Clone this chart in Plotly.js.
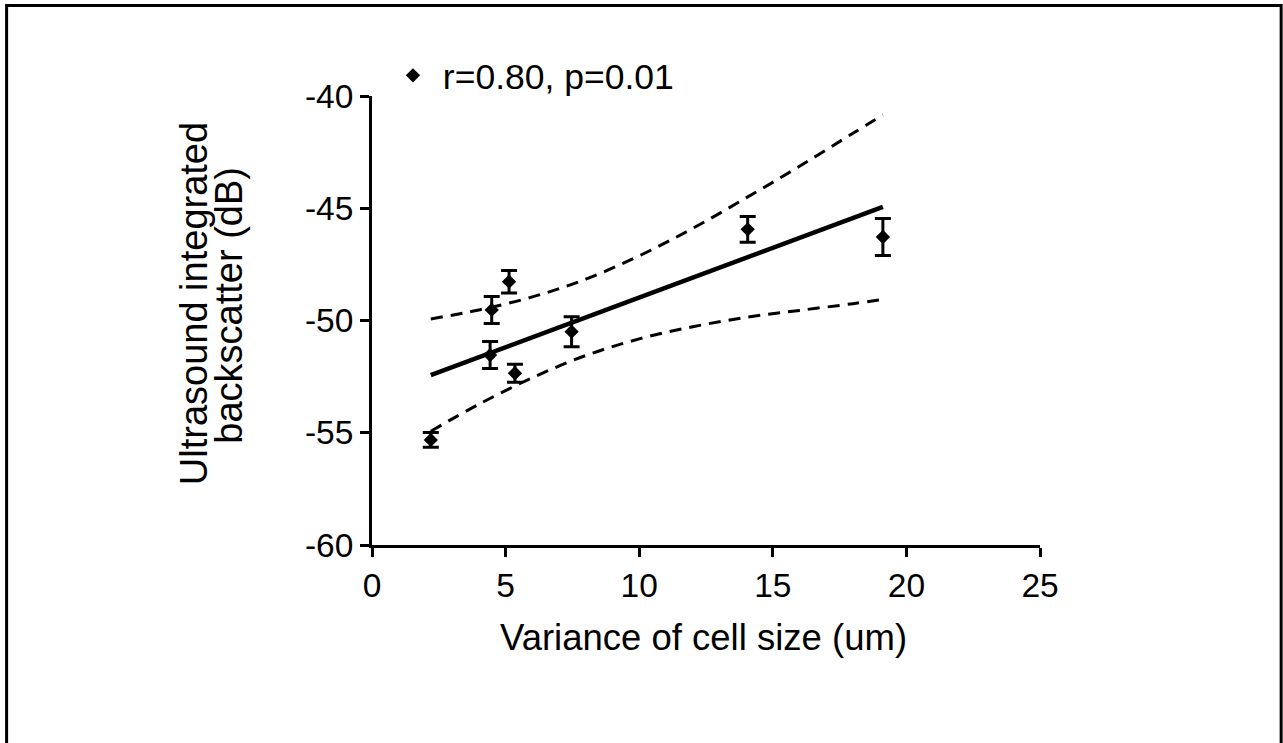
<!DOCTYPE html>
<html>
<head>
<meta charset="utf-8">
<script src="https://cdn.plot.ly/plotly-3.0.1.min.js"></script>
<style>html,body{margin:0;padding:0;background:#fff;}#chart{width:1283px;height:743px;}</style>
</head>
<body>
<div id="chart"></div>
<script>
// Data
const cellVariance = [2.2, 4.42, 4.48, 5.13, 5.35, 7.47, 14.06, 19.12];
const backscatter = [-55.32, -51.54, -49.53, -48.27, -52.35, -50.50, -45.94, -46.28];
const backscatterErr = [0.33, 0.6, 0.6, 0.5, 0.4, 0.67, 0.57, 0.82];
const fitX = [2.2, 19.12];
const fitY = [-52.43, -44.94];
const ciX = [2.2, 4, 6, 8, 10, 12, 14, 16, 18, 19.12];
const ciUpper = [-49.93, -49.53, -48.95, -48.16, -47.12, -45.90, -44.54, -43.13, -41.66, -40.84];
const ciLower = [-54.93, -53.73, -52.55, -51.56, -50.82, -50.28, -49.86, -49.55, -49.25, -49.06];
const xTicks = [0, 5, 10, 15, 20, 25];
const yTicks = [-60, -55, -50, -45, -40];
const legendText = '\u00a0r=0.80, p=0.01';

const FONT = 'Liberation Sans, Arial, sans-serif';

const traces = [
  {x: ciX, y: ciUpper, mode: 'lines', line: {color: '#000', width: 3, dash: '12px,8px', shape: 'spline'}, showlegend: false, hoverinfo: 'skip'},
  {x: ciX, y: ciLower, mode: 'lines', line: {color: '#000', width: 3, dash: '12px,8px', shape: 'spline'}, showlegend: false, hoverinfo: 'skip'},
  {x: fitX, y: fitY, mode: 'lines', line: {color: '#000', width: 4.5}, showlegend: false},
  {x: cellVariance, y: backscatter, mode: 'markers', name: legendText,
   marker: {symbol: 'diamond', size: 11, color: '#000'},
   error_y: {type: 'data', array: backscatterErr, visible: true, color: '#000', thickness: 3, width: 8},
   showlegend: true}
];

const layout = {
  width: 1283, height: 743,
  margin: {l: 372, r: 243, t: 96, b: 198},
  paper_bgcolor: '#fff', plot_bgcolor: '#fff',
  font: {family: FONT, color: '#000', size: 33},
  showlegend: true,
  legend: {x: 0.0314, y: 1.045, xanchor: 'left', yanchor: 'middle', font: {family: FONT, size: 35.5, color: '#000'}, bgcolor: 'rgba(0,0,0,0)'},
  xaxis: {
    range: [0, 25], tickvals: xTicks, ticktext: xTicks.map(String),
    showline: true, linewidth: 3, linecolor: '#000', ticks: 'outside', ticklen: 9, tickwidth: 3, tickcolor: '#000',
    showgrid: false, zeroline: false, tickfont: {family: FONT, size: 33.5, color: '#000'}
  },
  yaxis: {
    range: [-60, -40], tickvals: yTicks, ticktext: yTicks.map(String),
    showline: true, linewidth: 3, linecolor: '#000', ticks: 'outside', ticklen: 9, tickwidth: 3, tickcolor: '#000',
    showgrid: false, zeroline: false, tickfont: {family: FONT, size: 33.5, color: '#000'}
  },
  annotations: [
    {text: 'Variance of cell size (um)', xref: 'paper', yref: 'paper', x: 0.497, y: -0.205, xanchor: 'center', yanchor: 'middle', showarrow: false, font: {family: FONT, size: 36.5, color: '#000'}},
    {text: 'Ultrasound integrated', xref: 'paper', yref: 'paper', x: -0.266, y: 0.537, xanchor: 'center', yanchor: 'middle', textangle: -90, showarrow: false, font: {family: FONT, size: 38, color: '#000'}},
    {text: 'backscatter (dB)', xref: 'paper', yref: 'paper', x: -0.214, y: 0.533, xanchor: 'center', yanchor: 'middle', textangle: -90, showarrow: false, font: {family: FONT, size: 38, color: '#000'}}
  ],
  shapes: [
    {type: 'rect', xref: 'paper', yref: 'paper', x0: -0.547, x1: 1.361, y0: -0.46, y1: 1.2016, line: {color: '#000', width: 3}, fillcolor: 'rgba(0,0,0,0)', layer: 'above'}
  ]
};

Plotly.newPlot('chart', traces, layout, {displayModeBar: false, staticPlot: true});
</script>
</body>
</html>
